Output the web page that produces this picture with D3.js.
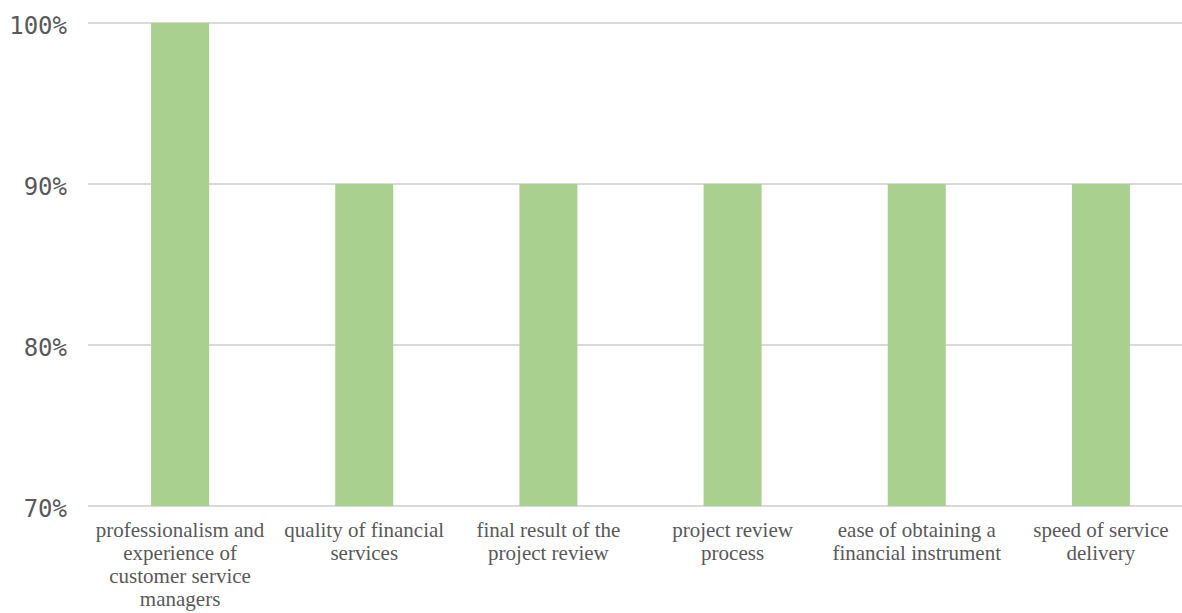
<!DOCTYPE html>
<html>
<head>
<meta charset="utf-8">
<script src="https://cdnjs.cloudflare.com/ajax/libs/d3/7.8.5/d3.min.js"></script>
<style>
  body { margin: 0; background: #fff; }
</style>
</head>
<body>
<div id="chart"></div>
<script>
var categories = [
  "professionalism and experience of customer service managers",
  "quality of financial services",
  "final result of the project review",
  "project review process",
  "ease of obtaining a financial instrument",
  "speed of service delivery"
];
var values = [100, 90, 90, 90, 90, 90];
var yTicks = [70, 80, 90, 100];

var svgWidth = 1182;
var svgHeight = 613;
var margin = { top: 23, right: 0, bottom: 107, left: 88 };
var width = svgWidth - margin.left - margin.right;
var height = svgHeight - margin.top - margin.bottom;

var svg = d3.select("#chart")
  .append("svg")
  .attr("width", svgWidth)
  .attr("height", svgHeight);

var chartGroup = svg.append("g")
  .attr("transform", `translate(${margin.left}, ${margin.top})`);

// band range runs a little past the right edge (plot is clipped there)
var xScale = d3.scaleBand()
  .domain(categories)
  .range([0, 1105])
  .paddingInner(0.685)
  .paddingOuter(0.3425);

var yScale = d3.scaleLinear()
  .domain([70, 100])
  .range([height, 0]);

// gridlines
chartGroup.selectAll(".grid")
  .data(yTicks)
  .enter()
  .append("line")
  .attr("x1", 0)
  .attr("x2", width)
  .attr("y1", d => yScale(d))
  .attr("y2", d => yScale(d))
  .style("stroke", "#d9d9d9")
  .style("stroke-width", 2);

// y labels
var leftAxis = d3.axisLeft(yScale)
  .tickValues(yTicks)
  .tickSize(0)
  .tickPadding(21)
  .tickFormat(d => d + "%");

var yAxis = chartGroup.append("g").call(leftAxis);
yAxis.select(".domain").remove();
yAxis.selectAll("text")
  .attr("dy", "0.42em")
  .style("font-family", "'DejaVu Sans Mono', monospace")
  .style("font-size", "24px")
  .style("fill", "#595959");

// bars
chartGroup.selectAll(".bar")
  .data(values)
  .enter()
  .append("rect")
  .attr("x", (d, i) => xScale(categories[i]))
  .attr("y", d => yScale(d))
  .attr("width", xScale.bandwidth())
  .attr("height", d => height - yScale(d))
  .style("fill", "#a9d08e");

// category labels, wrapped
var maxWidth = 178;
var labels = chartGroup.selectAll(".cat")
  .data(categories)
  .enter()
  .append("text")
  .attr("x", d => xScale(d) + xScale.bandwidth() / 2)
  .attr("y", height + 31)
  .style("text-anchor", "middle")
  .style("font-family", "'Liberation Serif', 'Times New Roman', serif")
  .style("font-size", "21px")
  .style("fill", "#595959");

labels.each(function(d) {
  var text = d3.select(this);
  var words = d.split(" ");
  var line = [];
  var x = text.attr("x");
  var tspan = text.append("tspan").attr("x", x).attr("dy", 0);
  words.forEach(function(w) {
    line.push(w);
    tspan.text(line.join(" "));
    if (tspan.node().getComputedTextLength() > maxWidth && line.length > 1) {
      line.pop();
      tspan.text(line.join(" "));
      line = [w];
      tspan = text.append("tspan").attr("x", x).attr("dy", "23px").text(w);
    }
  });
});
</script>
</body>
</html>
